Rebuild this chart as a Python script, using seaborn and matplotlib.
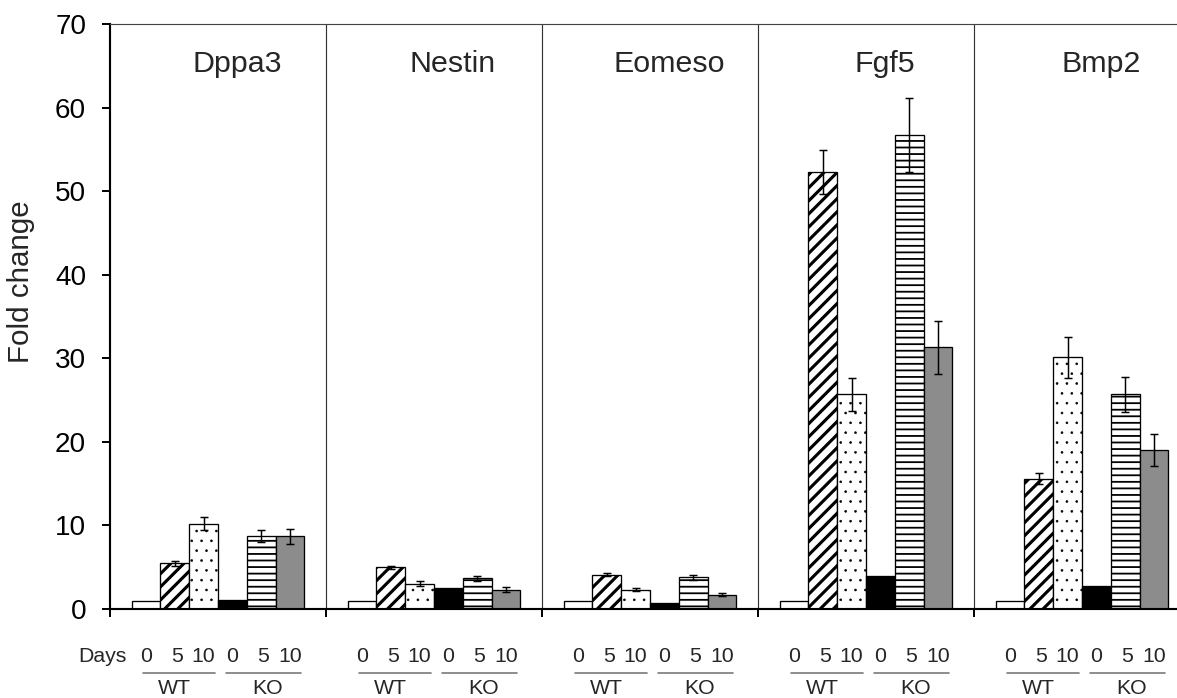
import numpy as np
import pandas as pd
import matplotlib
matplotlib.use("Agg")
import matplotlib.pyplot as plt
import matplotlib.transforms as mtransforms
import seaborn as sns

# ---- data ----
genes = ["Dppa3", "Nestin", "Eomeso", "Fgf5", "Bmp2"]
conditions = ["WT 0", "WT 5", "WT 10", "KO 0", "KO 5", "KO 10"]
wt0 = [1.0, 1.0, 1.0, 1.0, 1.0]
wt5 = [5.5, 5.0, 4.1, 52.3, 15.6]
wt10 = [10.2, 3.0, 2.3, 25.7, 30.1]
ko0 = [1.1, 2.5, 0.7, 3.9, 2.8]
ko5 = [8.7, 3.7, 3.8, 56.7, 25.7]
ko10 = [8.7, 2.3, 1.7, 31.3, 19.0]
wt5_err = [0.3, 0.2, 0.2, 2.6, 0.7]
wt10_err = [0.8, 0.3, 0.2, 2.0, 2.4]
ko5_err = [0.7, 0.3, 0.3, 4.4, 2.1]
ko10_err = [0.9, 0.3, 0.2, 3.2, 1.9]
day_labels = ["0", "5", "10", "0", "5", "10"]
group_labels = ["WT", "KO"]
yticks = [0, 10, 20, 30, 40, 50, 60, 70]

values = [wt0, wt5, wt10, ko0, ko5, ko10]
errors = [None, wt5_err, wt10_err, None, ko5_err, ko10_err]

rows = []
for cond, vals in zip(conditions, values):
    for g, v in zip(genes, vals):
        rows.append({"gene": g, "cond": cond, "value": v})
df = pd.DataFrame(rows)

sns.set_theme(style="white")
plt.rcParams["font.family"] = ["Liberation Sans", "DejaVu Sans"]

DPI = 118
W, H = 1177, 698
fig = plt.figure(figsize=(W / DPI, H / DPI), dpi=DPI)
left_px, right_px, top_px, base_px = 110, 1190, 24, 609
ax = fig.add_axes([left_px / W, (H - base_px) / H, (right_px - left_px) / W, (base_px - top_px) / H])

fills = {"WT 0": "white", "WT 5": "white", "WT 10": "white",
         "KO 0": "black", "KO 5": "white", "KO 10": "#8c8c8c"}
sns.barplot(data=df, x="gene", y="value", hue="cond", order=genes, hue_order=conditions,
            palette=fills, errorbar=None, width=0.8, edgecolor="black", linewidth=0.8,
            saturation=1, legend=False, ax=ax)
bar_conts = list(ax.containers)

hatches = [None, "///", "..", None, "---", None]
hatch_lw = [1.0, 1.9, 0.35, 1.0, 1.1, 1.0]
for cont, h, hl in zip(bar_conts, hatches, hatch_lw):
    for p in cont:
        if h:
            p.set_hatch(h)
            try:
                p.set_hatch_linewidth(hl)
            except Exception:
                plt.rcParams["hatch.linewidth"] = hl
        p.set_zorder(2)

# error bars
for cont, err in zip(bar_conts, errors):
    if err is None:
        continue
    xs = [p.get_x() + p.get_width() / 2 for p in cont]
    ys = [p.get_height() for p in cont]
    ax.errorbar(xs, ys, yerr=err, fmt="none", ecolor="black", elinewidth=0.9,
                capsize=2.6, capthick=0.9, zorder=3)

ax.set_xlim(-0.5, 4.5)
ax.set_ylim(0, 70)
ax.set_yticks(yticks)
ax.set_yticklabels([str(t) for t in yticks], fontsize=17)
ax.set_xticks([-0.5, 0.5, 1.5, 2.5, 3.5])
ax.set_xticklabels([])
ax.set_xlabel("")
ax.set_ylabel("Fold change", fontsize=18)
ax.yaxis.set_label_coords(-0.069, 0.559)
ax.tick_params(axis="y", direction="out", length=5, width=1.2, pad=9.5, left=True, colors="black")
ax.tick_params(axis="x", direction="out", length=5, width=1.2, bottom=True, colors="black")

for s in ["left", "bottom"]:
    ax.spines[s].set_linewidth(1.3)
    ax.spines[s].set_color("black")
ax.spines["top"].set_linewidth(0.7)
ax.spines["top"].set_color("#444444")
ax.spines["right"].set_visible(False)

for xd in [0.5, 1.5, 2.5, 3.5]:
    ax.axvline(xd, color="#333333", lw=0.7, zorder=1)

# panel titles
for i, g in enumerate(genes):
    ax.text(i + 0.088, 64.3, g, ha="center", va="baseline", fontsize=18.5)

# bottom labels
trans = mtransforms.blended_transform_factory(ax.transData, fig.transFigure)
y_days = (H - 657) / H
y_line = (H - 673) / H
y_grp = (H - 689) / H
fs_small = 13
ax.text(-0.5 - 8 / 216, y_days, "Days", transform=trans, ha="center", va="center",
        fontsize=fs_small, clip_on=False)
for gi in range(len(genes)):
    centers = [cont[gi].get_x() + cont[gi].get_width() / 2 for cont in bar_conts]
    for k, (c, lab) in enumerate(zip(centers, day_labels)):
        dx = 0.01 if lab == "5" else 0.0
        ax.text(c + dx, y_days, lab, transform=trans, ha="center", va="center",
                fontsize=fs_small, clip_on=False)
    ax.plot([centers[0] - 0.015, centers[2] + 0.055], [y_line, y_line], transform=trans,
            color="#777777", lw=1.0, clip_on=False)
    ax.plot([centers[3] - 0.03, centers[5] + 0.05], [y_line, y_line], transform=trans,
            color="#777777", lw=1.0, clip_on=False)
    ax.text(centers[1], y_grp, group_labels[0], transform=trans, ha="center", va="center",
            fontsize=fs_small, clip_on=False)
    ax.text((centers[4] + centers[5]) / 2 - 0.035, y_grp, group_labels[1], transform=trans,
            ha="center", va="center", fontsize=fs_small, clip_on=False)

fig.savefig("out.png", dpi=DPI)
